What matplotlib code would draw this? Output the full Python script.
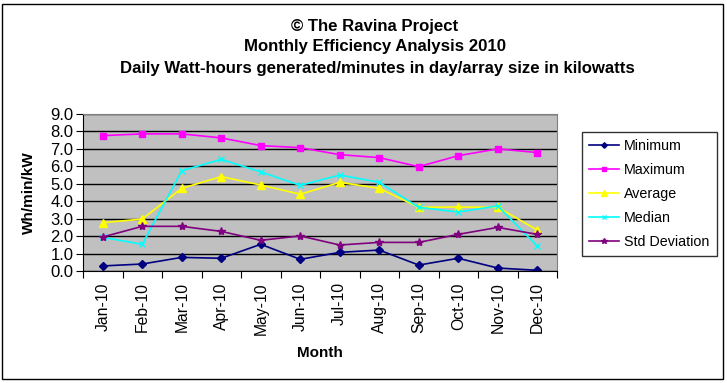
import numpy as np
import matplotlib
matplotlib.use("Agg")
import matplotlib.pyplot as plt
from matplotlib.patches import Rectangle

plt.rcParams['font.family'] = ['Liberation Sans', 'DejaVu Sans']

months = ["Jan-10", "Feb-10", "Mar-10", "Apr-10", "May-10", "Jun-10",
          "Jul-10", "Aug-10", "Sep-10", "Oct-10", "Nov-10", "Dec-10"]
minimum = [0.29, 0.40, 0.78, 0.73, 1.53, 0.67, 1.07, 1.20, 0.34, 0.73, 0.17, 0.04]
maximum = [7.76, 7.86, 7.86, 7.63, 7.19, 7.07, 6.67, 6.50, 5.98, 6.61, 7.00, 6.79]
average = [2.77, 2.98, 4.74, 5.41, 4.93, 4.40, 5.08, 4.74, 3.65, 3.67, 3.65, 2.35]
median = [1.93, 1.53, 5.75, 6.40, 5.68, 4.91, 5.50, 5.08, 3.65, 3.38, 3.73, 1.43]
std_dev = [1.95, 2.56, 2.56, 2.27, 1.76, 2.01, 1.49, 1.64, 1.64, 2.10, 2.50, 2.10]

W, H = 727, 383
fig = plt.figure(figsize=(W / 100, H / 100), dpi=100)
fig.patch.set_facecolor("white")

# outer chart border
fig.add_artist(Rectangle((2 / W, 4 / H), 721 / W, 375 / H, transform=fig.transFigure,
                         fill=False, edgecolor="black", lw=1))

ax = fig.add_axes([83 / W, 1 - 271 / H, 474 / W, 157 / H])
ax.set_facecolor("#c0c0c0")

x = np.arange(len(months))
series = [
    (minimum, "Minimum", "#000080", "D", 4),
    (maximum, "Maximum", "#ff00ff", "s", 5),
    (average, "Average", "#ffff00", "^", 6),
    (median, "Median", "#00ffff", "x", 5),
    (std_dev, "Std Deviation", "#800080", "*", 6),
]
for vals, name, col, mk, ms in series:
    ax.plot(x, vals, color=col, marker=mk, markersize=ms, lw=1.2,
            markeredgecolor=col, markerfacecolor=col, label=name)

ax.set_xlim(-0.5, len(months) - 0.5)
ax.set_ylim(0, 9)
ax.set_yticks(np.arange(0, 9.1, 1.0))
ax.set_yticklabels([f"{v:.1f}" for v in np.arange(0, 9.1, 1.0)], fontsize=12)
ax.grid(axis="y", color="black", lw=1)
ax.set_axisbelow(True)
ax.set_xticks(np.arange(-0.5, len(months), 1.0), minor=False)
ax.set_xticklabels([])
ax.set_xticks(x, minor=True)
ax.set_xticklabels(months, minor=True, rotation=90, fontsize=11.3)
ax.tick_params(axis="x", which="minor", length=0, pad=8)
ax.tick_params(axis="x", which="major", length=5, direction="out")
ax.tick_params(axis="y", length=5, direction="out", pad=2)
for s in ["top", "right"]:
    ax.spines[s].set_color("#808080")
for s in ["left", "bottom"]:
    ax.spines[s].set_color("black")

ax.set_xlabel("Month", fontsize=11, fontweight="bold", labelpad=8)
ax.set_ylabel("Wh/min/kW", fontsize=11, fontweight="bold", labelpad=10)

fig.text(375 / W, 1 - 27 / H, "© The Ravina Project", ha="center", va="center",
         fontsize=12.1, fontweight="bold")
fig.text(375 / W, 1 - 47 / H, "Monthly Efficiency Analysis 2010", ha="center",
         va="center", fontsize=12.1, fontweight="bold")
fig.text(377 / W, 1 - 68 / H, "Daily Watt-hours generated/minutes in day/array size in kilowatts",
         ha="center", va="center", fontsize=12.1, fontweight="bold")

leg = fig.legend(loc="upper left", bbox_to_anchor=(582 / W, 1 - 132 / H),
                 fontsize=10.3, frameon=True, fancybox=False, edgecolor="black",
                 handlelength=2.1, labelspacing=0.7, borderpad=0.5, handletextpad=0.35,
                 borderaxespad=0, markerscale=0.7)
leg.get_frame().set_linewidth(1)

fig.savefig("out.png", dpi=100)
